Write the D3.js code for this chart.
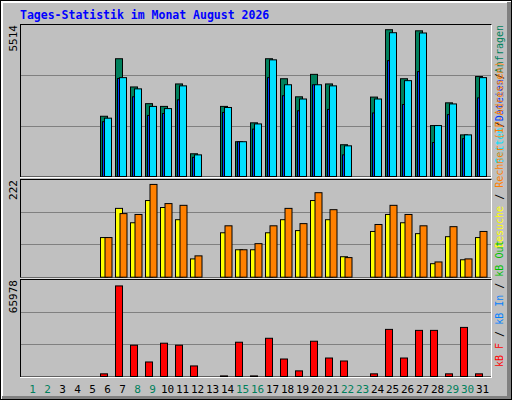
<!DOCTYPE html>
<html><head><meta charset="utf-8">
<script src="https://cdn.jsdelivr.net/npm/d3@7"></script>
<style>body{margin:0;background:#fff}svg{display:block}text{font-family:"DejaVu Sans Mono",monospace}</style>
</head><body><svg id="c" width="512" height="400"></svg>
<script>
const days = d3.range(1, 32);
const weekend = [1,2,8,9,15,16,22,23,29,30];
const hits  = [0,0,0,0,0,2200,4300,3270,2660,2560,3380,830,0,2560,1270,1960,4300,3570,2910,3730,3380,1160,0,2900,5360,3570,5320,1860,2690,1520,3650];
const files = [0,0,0,0,0,2130,3610,3200,2560,2480,3310,790,0,2520,1270,1920,4260,3350,2830,3350,3310,1120,0,2830,5250,3500,5240,1860,2650,1520,3610];
const pages = [0,0,0,0,0,2000,3580,2910,2230,2300,2800,700,0,2340,1270,1730,3610,2950,2400,3350,2450,790,0,2320,4230,2630,3830,1240,2260,1380,2870];
const visits= [0,0,0,0,0,91,158,125,176,160,132,42,0,102,63,63,102,132,107,176,132,47,0,105,144,125,100,31,93,40,91];
const sites = [0,0,0,0,0,91,146,144,213,169,165,49,0,118,63,77,118,158,123,194,155,45,0,121,165,144,118,35,116,42,105];
const kbytes= [0,0,0,0,0,1830,62250,21500,9980,22880,21500,7260,0,400,23560,400,26270,12020,3870,24240,12700,10660,0,1830,32380,12700,31700,31700,1830,33740,1830];
const maxLabels = ["5514","222","65978"];

const svg = d3.select("#c");
svg.append("rect").attr("x",0.5).attr("y",0.5).attr("width",511).attr("height",399).attr("fill","#c0c0c0").attr("stroke","#000");
svg.append("rect").attr("x",1).attr("y",1).attr("width",510).attr("height",2).attr("fill","#fff");
svg.append("rect").attr("x",1).attr("y",1).attr("width",2).attr("height",398).attr("fill","#fff");
svg.append("rect").attr("x",507).attr("y",2).attr("width",4).attr("height",397).attr("fill","#808080");
svg.append("rect").attr("x",2).attr("y",396).attr("width",509).attr("height",3).attr("fill","#808080");
svg.append("text").attr("x",20).attr("y",19).attr("fill","#0000ff").attr("font-weight","bold").attr("font-size",11.5).text("Tages-Statistik im Monat August 2026");

const x = d3.scaleBand().domain(days).range([25, 490]).paddingInner(0);
const panels = [
  {top:25, bot:176, max:5514},
  {top:180, bot:276.7, max:222},
  {top:280, bot:376, max:65978}
];
panels.forEach((p,i)=>{
  svg.append("rect").attr("x",20.5).attr("y",p.top-0.5+(i?0:0)).attr("width",471).attr("height",p.bot-p.top+1.5).attr("fill","none").attr("stroke","#000");
  svg.append("line").attr("x1",20).attr("x2",492).attr("y1",p.bot+1.5).attr("y2",p.bot+1.5).attr("stroke","#fff");
  svg.append("line").attr("x1",491.5).attr("x2",491.5).attr("y1",p.top-0.5).attr("y2",p.bot+1.5).attr("stroke","#fff");
  p.y = d3.scaleLinear().domain([0,p.max]).range([p.bot, p.top]);
  [p.max/3, 2*p.max/3].forEach(v=>svg.append("line").attr("x1",21).attr("x2",491).attr("y1",Math.round(p.y(v))+0.5).attr("y2",Math.round(p.y(v))+0.5).attr("stroke","#808080"));
  svg.append("text").attr("transform",`translate(17,${p.top}) rotate(-90)`).attr("text-anchor","end").attr("font-size",11).attr("fill","#000").text(maxLabels[i]);
});
function bars(p, data, off, w, color){
  svg.append("g").selectAll("rect").data(days.filter((d,i)=>data[i]>0)).join("rect")
   .attr("x",d=>x(d)+off+0.5).attr("width",w)
   .attr("y",d=>p.y(data[d-1])+0.5).attr("height",d=>Math.max(0,p.bot-p.y(data[d-1])))
   .attr("fill",color).attr("stroke","#000");
}
bars(panels[0], hits, 0, 7, "#00805c");
bars(panels[0], pages, 2, 3, "#0040ff");
bars(panels[0], files, 4, 7, "#00e0ff");
bars(panels[1], visits, 0, 7, "#ffff00");
bars(panels[1], sites, 4.5, 7, "#ff8000");
bars(panels[2], kbytes, 0, 7, "#ff0000");

svg.append("g").selectAll("text").data(days).join("text")
  .attr("x",d=>x(d)+x.bandwidth()/2).attr("y",393).attr("text-anchor","middle").attr("font-size",11)
  .attr("fill",d=>weekend.includes(d)?"#00805c":"#000").text(d=>d);

function vlabel(y, anchor, parts){
  const t = svg.append("text").attr("transform",`translate(503,${y}) rotate(-90)`).attr("text-anchor",anchor).attr("font-size",10);
  parts.forEach(([s,c])=>t.append("tspan").attr("fill",c).text(s));
}
vlabel(25,"end",[["Seiten","#00e0ff"],["/","#000"],["Dateien","#0040ff"],["/","#000"],["Anfragen","#00805c"]]);
vlabel(248,"start",[["Besuche","#ffff00"],[" / ","#000"],["Rechner (IP-Adressen)","#ff8000"]]);
vlabel(367,"start",[["kB F","#ff0000"],[" / ","#000"],["kB In","#0080ff"],[" / ","#000"],["kB Out","#00c000"]]);
</script></body></html>
